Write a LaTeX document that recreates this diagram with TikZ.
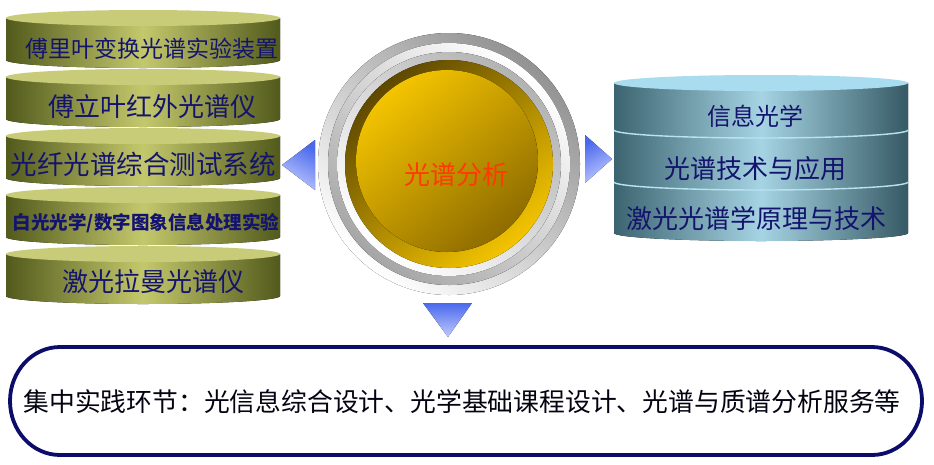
\documentclass[tikz,border=0pt]{standalone}
\usepackage{fontspec}
\newfontfamily\cjk{Noto Sans CJK SC}
\definecolor{olD}{HTML}{525A1C}
\definecolor{olM}{HTML}{C4C86C}
\definecolor{olT}{HTML}{C8CC78}
\definecolor{tlD}{HTML}{3C6470}
\definecolor{tlM}{HTML}{A6D4E4}
\definecolor{tlT}{HTML}{A8DCEE}
\definecolor{navy}{HTML}{14146E}
\definecolor{boxline}{HTML}{0C0C6A}
\definecolor{redt}{HTML}{FF3A00}
\definecolor{goldD}{HTML}{5E4800}
\definecolor{goldB}{HTML}{F4C400}
\definecolor{goldM}{HTML}{8E6C00}
\definecolor{triB}{HTML}{4A68EC}
\definecolor{triL}{HTML}{C0CAFF}
\tikzset{
  oliveBody/.style={left color=olD, right color=olD, middle color=olM},
  oliveTop/.style={fill=olT},
  tealBody/.style={left color=tlD, right color=tlD!90!black, middle color=tlM},
  tealTop/.style={fill=tlT},
  divider/.style={draw=tlT!80!white, line width=1.4pt},
  lt/.style={text=navy, font=\cjk, inner sep=0pt, anchor=center},
  tri/.style={top color=triB, bottom color=triL},
}
\newcommand\olivecyl[1]{%
  \fill[oliveBody] (6,#1+8) -- (6,#1+50) arc[start angle=180,end angle=0,x radius=137,y radius=8] -- (280,#1+8) -- cycle;
  \fill[oliveTop] (143,#1+8) ellipse [x radius=137, y radius=8];
}
\begin{document}
\begin{tikzpicture}[x=1pt,y=-1pt]
\useasboundingbox (0,0) rectangle (934,464);
\fill[white] (0,0) rectangle (934,464);
% left stack
\olivecyl{10}
\olivecyl{69}
\olivecyl{128}
\olivecyl{187}
\olivecyl{246}
\node[lt] (l1) at (152,49) {\fontsize{23}{23}\selectfont 傅里叶变换光谱实验装置};
\node[lt] (l2) at (152,107) {\fontsize{26}{26}\selectfont 傅立叶红外光谱仪};
\node[lt] (l3) at (143,164) {\fontsize{26.5}{26.5}\selectfont 光纤光谱综合测试系统};
\node[lt] (l4) at (146,223) {\fontsize{18.5}{18.5}\selectfont\bfseries 白光光学/数字图象信息处理实验};
\node[lt] (l5) at (153,282) {\fontsize{26}{26}\selectfont 激光拉曼光谱仪};
% right stack
\fill[tealBody] (614,83) -- (614,233) arc[start angle=180,end angle=0,x radius=147,y radius=8] -- (908,83) -- cycle;
\fill[tealTop] (761,83) ellipse [x radius=147, y radius=8];
\draw[divider] (614,130) arc[start angle=180,end angle=0,x radius=147,y radius=8];
\draw[divider] (614,182) arc[start angle=180,end angle=0,x radius=147,y radius=8];
\node[lt] (r1) at (755,116) {\fontsize{24}{24}\selectfont 信息光学};
\node[lt] (r2) at (755,169) {\fontsize{26}{26}\selectfont 光谱技术与应用};
\node[lt] (r3) at (756,219) {\fontsize{26}{26}\selectfont 激光光谱学原理与技术};
% center badge
\fill[top color=gray!85, bottom color=white, shading angle=-40] (449,164) circle (131);
\fill[top color=white, bottom color=gray!70, shading angle=-40] (449,164) circle (121);
\fill[top color=gray!60, bottom color=white, shading angle=-40] (449,164) circle (112);
\fill[top color=goldD, bottom color=goldB, shading angle=40] (449,164) circle (104);
\fill[top color=goldB, bottom color=goldM, shading angle=40] (447,161) circle (91);
\node[lt, text=redt] (c) at (456,175) {\fontsize{26}{26}\selectfont 光谱分析};
% arrow triangles
\fill[tri, shading angle=-30] (282,165) -- (315,140) -- (315,190) -- cycle;
\fill[tri, shading angle=30] (612,159) -- (585,135) -- (585,183) -- cycle;
\fill[tri] (448,337) -- (423,303) -- (472,303) -- cycle;
% bottom box
\draw[boxline, line width=3.8pt] (60,347) -- (872,347) arc[start angle=-90,end angle=90,x radius=50,y radius=54] -- (60,455) arc[start angle=90,end angle=270,x radius=50,y radius=54] -- cycle;
\node[lt, text=black!85!navy] (b) at (462,402) {\fontsize{25.8}{25.8}\selectfont 集中实践环节：光信息综合设计、光学基础课程设计、光谱与质谱分析服务等};
\end{tikzpicture}
\end{document}
